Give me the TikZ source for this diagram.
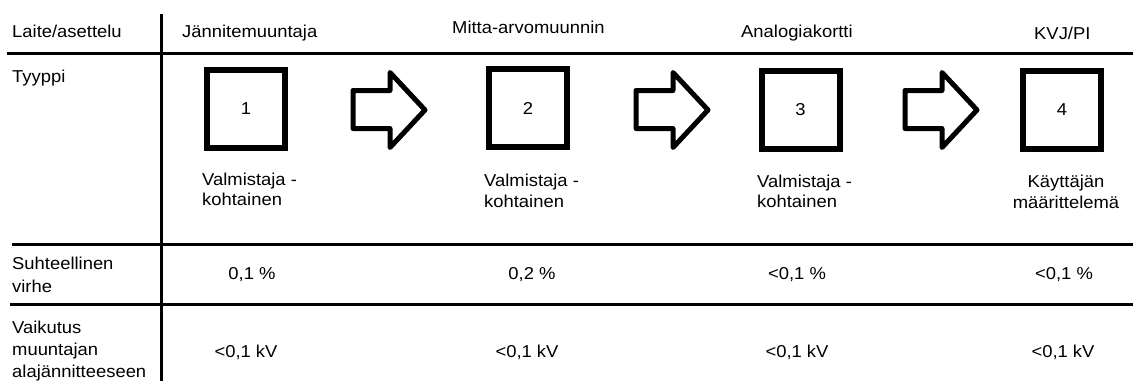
\documentclass[tikz,border=0pt]{standalone}
\usepackage{fontspec}
\setmainfont{Liberation Sans}[FakeStretch=1.07]
\newcommand\stackII[3]{\vtop{\baselineskip=#1\relax\hbox{#2}\hbox{#3}}}
\newcommand\stackIII[4]{\vtop{\baselineskip=#1\relax\hbox{#2}\hbox{#3}\hbox{#4}}}
\newcommand\centII[3]{\vtop{\baselineskip=#1\relax\hbox to 0pt{\hss#2\hss}\hbox to 0pt{\hss#3\hss}}}
\tikzset{
  rule/.style={line width=3pt},
  stagebox/.style={draw, line width=6pt, minimum size=78pt, inner sep=0pt},
  lbl/.style={inner sep=0pt, anchor=base west},
  val/.style={inner sep=0pt, anchor=base},
  flowarrow/.style={draw, line width=5pt, line join=round},
}
\begin{document}
\begin{tikzpicture}[x=1pt, y=-1pt, font=\fontsize{17.2}{21}\selectfont]
\useasboundingbox (0,0) rectangle (1133,381);
% table rules
\draw[rule] (161.5,14) -- (161.5,381);
\draw[rule] (7,53) -- (1133,53);
\draw[rule] (12,244) -- (1133,244);
\draw[rule] (10,304) -- (1133,304);
% header row
\node[lbl] (hdr0) at (12,37) {Laite/asettelu};
\node[lbl] (hdr1) at (182,37) {Jännitemuuntaja};
\node[lbl] (hdr2) at (452,33) {Mitta-arvomuunnin};
\node[lbl] (hdr3) at (741,37) {Analogiakortti};
\node[lbl] (hdr4) at (1034,39) {KVJ/PI};
% row labels
\node[lbl] (rowA) at (12,82) {Tyyppi};
\node[lbl] (rowB) at (12,269) {\stackII{23pt}{Suhteellinen}{virhe}};
\node[lbl] (rowC) at (12,333) {\stackIII{22pt}{Vaikutus}{muuntajan}{alajännitteeseen}};
% stage boxes
\node[stagebox] (b1) at (246,109) {1};
\node[stagebox] (b2) at (528,108) {2};
\node[stagebox] (b3) at (800.5,109.5) {3};
\node[stagebox] (b4) at (1062,109.5) {4};
% block arrows
\foreach \xa in {353,636,905}{
  \draw[flowarrow] (\xa,90.5) -- (\xa+37,90.5) -- (\xa+37,72.5) -- (\xa+72,110)
    -- (\xa+37,147.5) -- (\xa+37,128.5) -- (\xa,128.5) -- cycle;
}
% type descriptions
\node[lbl] (t1) at (202,185) {\stackII{20.5pt}{Valmistaja -}{kohtainen}};
\node[lbl] (t2) at (484,186) {\stackII{21pt}{Valmistaja -}{kohtainen}};
\node[lbl] (t3) at (757,187) {\stackII{20.5pt}{Valmistaja -}{kohtainen}};
\node[val] (t4) at (1066,187) {\centII{21pt}{Käyttäjän}{määrittelemä}};
% relative error
\node[val] (e1) at (252,279) {0,1 \%};
\node[val] (e2) at (532,279) {0,2 \%};
\node[val] (e3) at (797,279) {<0,1 \%};
\node[val] (e4) at (1064,279) {<0,1 \%};
% effect on LV
\node[val] (v1) at (246,357) {<0,1 kV};
\node[val] (v2) at (527,357) {<0,1 kV};
\node[val] (v3) at (797,357) {<0,1 kV};
\node[val] (v4) at (1063,357) {<0,1 kV};
\end{tikzpicture}
\end{document}
